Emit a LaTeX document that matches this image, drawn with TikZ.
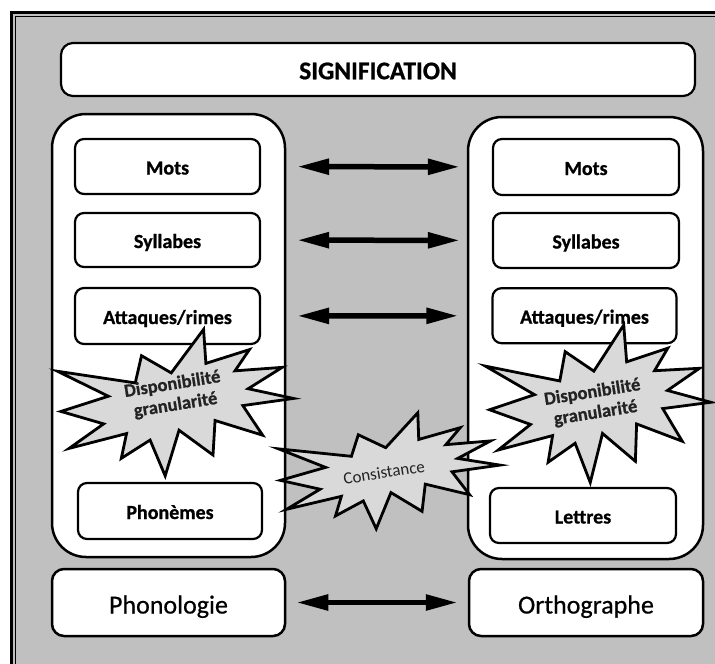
\documentclass[tikz,border=0pt]{standalone}
\usepackage{fontspec}
\setmainfont{Carlito}[BoldFeatures={FakeBold=0.8}]
\newfontfamily\heavyfont{Carlito}[FakeBold=0.6]
\usetikzlibrary{arrows.meta}
\definecolor{bggray}{RGB}{192,192,192}
\definecolor{burstgray}{RGB}{217,217,217}
\definecolor{burstink}{RGB}{35,35,35}

\begin{document}
\begin{tikzpicture}[x=1pt,y=-1pt,
  box/.style={draw,fill=white,line width=2.2pt,rounded corners=9pt,inner sep=0pt,
    text height=18pt,text depth=2pt,font=\fontsize{20}{24}\selectfont\bfseries},
  column/.style={draw,fill=white,line width=2.5pt,rounded corners=34pt},
  bigbox/.style={draw,fill=white,line width=2.5pt,rounded corners=12pt,inner sep=0pt,
    text height=22pt,text depth=0pt,font=\heavyfont\fontsize{26}{30}\selectfont,
    minimum width=234pt,minimum height=67pt},
  dblarrow/.style={{Triangle[length=32pt,width=15pt]}-{Triangle[length=32pt,width=15pt]},line width=5.5pt},
  burst/.style={draw,fill=burstgray,line width=2.8pt},
  bursttext/.style={text=burstink,align=center,inner sep=0pt},
  seal/.pic={\path[burst] (0,-.231) -- (.172,-.5) -- (.155,-.253) -- (.351,-.294) -- (.273,-.161)
    -- (.477,-.123) -- (.315,-.015) -- (.5,.115) -- (.279,.099) -- (.340,.338) -- (.149,.169)
    -- (.113,.414) -- (-.012,.191) -- (-.107,.5) -- (-.143,.223) -- (-.280,.316) -- (-.238,.145)
    -- (-.494,.175) -- (-.328,.045) -- (-.5,-.101) -- (-.286,-.147) -- (-.483,-.394)
    -- (-.161,-.207) -- (-.113,-.394) -- cycle;}]
\clip (0,0) rectangle (715,664);
\fill[white] (0,0) rectangle (715,664);
\fill[bggray] (10,11) rectangle (730,680);
\draw[line width=3pt] (11.5,12.5) rectangle (730,680);
\draw[line width=1.2pt] (15.6,16.6) rectangle (730,680);

\node[box,minimum width=634pt,minimum height=53pt,rounded corners=12pt,text height=19.5pt,text depth=0pt,
  font=\fontsize{25.5}{30}\selectfont\bfseries] (sig) at (378,69.5) {SIGNIFICATION};

\node[column,minimum width=233pt,minimum height=443pt] (lcol) at (168.5,335.5) {};
\node[column,minimum width=235pt,minimum height=442pt] (rcol) at (585.5,338) {};

\node[box,minimum width=185pt,minimum height=55pt] (lmots) at (167.5,166.5) {Mots};
\node[box,minimum width=185pt,minimum height=54pt] (lsyll) at (167.5,240) {Syllabes};
\node[box,minimum width=185pt,minimum height=56pt] (lattq) at (167.5,316) {Attaques/rimes};
\node[box,minimum width=184pt,minimum height=56pt] (lphon) at (170,511) {Phonèmes};

\node[box,minimum width=186pt,minimum height=56pt] (rmots) at (586,167) {Mots};
\node[box,minimum width=186pt,minimum height=55pt] (rsyll) at (586,240.5) {Syllabes};
\node[box,minimum width=184pt,minimum height=55pt] (rattq) at (584.5,315.7) {Attaques/rimes};
\node[box,minimum width=186pt,minimum height=55pt] (rlett) at (583,515.5) {Lettres};

\node[bigbox,minimum width=233pt] (phono) at (168.5,602.5) {Phonologie};
\node[bigbox] (ortho) at (586,602.5) {Orthographe};

\draw[dblarrow,shorten <=36pt,shorten >=32pt] (lmots) -- (rmots);
\draw[dblarrow,shorten <=36pt,shorten >=32pt] (lsyll) -- (rsyll);
\draw[dblarrow,shorten <=36pt,shorten >=33pt] (lattq) -- (rattq);
\draw[dblarrow,shorten <=10pt,shorten >=10pt] (phono) -- (ortho);

\pic[rotate=10.5,xscale=231,yscale=137] (lburst) at (177,404) {seal};
\node[bursttext,rotate=9,font=\fontsize{18.5}{21}\selectfont\bfseries] (ltxt) at (174,395) {Disponibilité\\granularité};

\pic[rotate=10.3,xscale=219,yscale=149] (rburst) at (600,405) {seal};
\node[bursttext,rotate=9,font=\fontsize{18.5}{21}\selectfont\bfseries] (rtxt) at (594,403) {Disponibilité\\granularité};

\pic[rotate=10,xscale=219,yscale=107] (cburst) at (390,472) {seal};
\node[bursttext,rotate=9,font=\fontsize{17}{20}\selectfont] (ctxt) at (384,472.5) {Consistance};
\end{tikzpicture}
\end{document}
